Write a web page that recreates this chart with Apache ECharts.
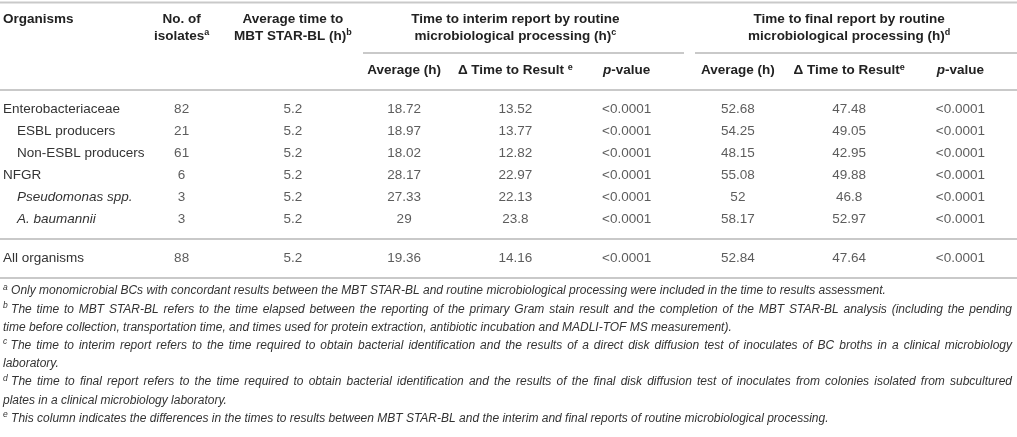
<!DOCTYPE html>
<html>
<head>
<meta charset="utf-8">
<title>Time to results</title>
<script src="https://cdn.jsdelivr.net/npm/echarts@6/dist/echarts.min.js"></script>
<style>
html,body{margin:0;padding:0;background:#fff;}
#main{width:1017px;height:437px;}
</style>
</head>
<body>
<div id="main"></div>
<script>
// row names
var organisms = ['Enterobacteriaceae', 'ESBL producers', 'Non-ESBL producers', 'NFGR', 'Pseudomonas spp.', 'A. baumannii'];
var subGroups = ['ESBL producers', 'Non-ESBL producers', 'Pseudomonas spp.', 'A. baumannii'];
var italicNames = ['Pseudomonas spp.', 'A. baumannii'];
var totalRow = ['All organisms'];

// column values, one array per column
var isolates = [82, 21, 61, 6, 3, 3];
var starBL = [5.2, 5.2, 5.2, 5.2, 5.2, 5.2];
var interimAvg = [18.72, 18.97, 18.02, 28.17, 27.33, 29];
var interimDelta = [13.52, 13.77, 12.82, 22.97, 22.13, 23.8];
var interimP = ['<0.0001', '<0.0001', '<0.0001', '<0.0001', '<0.0001', '<0.0001'];
var finalAvg = [52.68, 54.25, 48.15, 55.08, 52, 58.17];
var finalDelta = [47.48, 49.05, 42.95, 49.88, 46.8, 52.97];
var finalP = ['<0.0001', '<0.0001', '<0.0001', '<0.0001', '<0.0001', '<0.0001'];
// All organisms row, same column order
var allOrganisms = [88, 5.2, 19.36, 14.16, '<0.0001', 52.84, 47.64, '<0.0001'];

// header texts
var columns = ['isolates', 'starBL', 'interimAvg', 'interimDelta', 'interimP', 'finalAvg', 'finalDelta', 'finalP'];
var groupHeaders = ['No. of\nisolates{sup|a}', 'Average time to\nMBT STAR-BL (h){sup|b}', '',
	'Time to interim report by routine\nmicrobiological processing (h){sup|c}', '', '',
	'Time to final report by routine\nmicrobiological processing (h){sup|d}', ''];
var subHeaders = ['', '', 'Average (h)', '\u0394 Time to Result {sup|e}', '{it|p}-value',
	'Average (h)', '\u0394 Time to Result{sup|e}', '{it|p}-value'];

// footnote lines; [mark, text, justified]
var footnotes = [
	['a', 'Only monomicrobial BCs with concordant results between the MBT STAR-BL and routine microbiological processing were included in the time to results assessment.', false],
	['b', 'The time to MBT STAR-BL refers to the time elapsed between the reporting of the primary Gram stain result and the completion of the MBT STAR-BL analysis (including the pending', true],
	['', 'time before collection, transportation time, and times used for protein extraction, antibiotic incubation and MADLI-TOF MS measurement).', false],
	['c', 'The time to interim report refers to the time required to obtain bacterial identification and the results of a direct disk diffusion test of inoculates of BC broths in a clinical microbiology', true],
	['', 'laboratory.', false],
	['d', 'The time to final report refers to the time required to obtain bacterial identification and the results of the final disk diffusion test of inoculates from colonies isolated from subcultured', true],
	['', 'plates in a clinical microbiology laboratory.', false],
	['e', 'This column indicates the differences in the times to results between MBT STAR-BL and the interim and final reports of routine microbiological processing.', false]
];

var FONT = '"Liberation Sans", Arial, Helvetica, sans-serif';
var SIZE = 13.5;
var NOTE_SIZE = 12;
var SUP_SIZE = 8.5;
var NOTE_RIGHT = 1012;
var TEXT = '#333';
var HEAD = '#222';
var RULE = '#c9c9c9';

var colValues = [isolates, starBL, interimAvg, interimDelta, interimP, finalAvg, finalDelta, finalP];
var bodyCells = [], totalCells = [];
for (var c = 0; c < columns.length; c++) {
	for (var r = 0; r < organisms.length; r++) {
		bodyCells.push({value: [c, r], text: String(colValues[c][r])});
	}
	totalCells.push({value: [c, 0], text: String(allOrganisms[c])});
}

var supStyle = {fontSize: 9, fontWeight: 'bold', lineHeight: 11, verticalAlign: 'top', color: HEAD, fontFamily: FONT};
var cellLabel = {
	show: true,
	position: 'inside',
	color: TEXT,
	fontSize: SIZE,
	fontFamily: FONT,
	formatter: function (p) { return p.data.text; }
};
var hiddenAxis = {axisLine: {show: false}, axisTick: {show: false}, splitLine: {show: false}};

function rowLabel(name) {
	if (italicNames.indexOf(name) >= 0) return '{it|' + name + '}';
	if (subGroups.indexOf(name) >= 0) return '{ind|' + name + '}';
	return name;
}

// measuring context, used to stretch the spaces of justified footnote lines
var ctx = document.createElement('canvas').getContext('2d');
function textWidth(str, size) {
	ctx.font = 'italic ' + size + 'px ' + FONT;
	return ctx.measureText(str).width;
}

function noteLine(note, left) {
	var mark = note[0], body = note[1];
	var head = mark ? '{s|' + mark + '} ' : '';
	var rich = {s: {fontSize: SUP_SIZE, fontStyle: 'italic', lineHeight: 9, verticalAlign: 'top', color: TEXT, fontFamily: FONT}};
	if (!note[2]) return {text: head + body, rich: rich};
	var words = body.split(' ');
	var natural = (mark ? textWidth(mark, SUP_SIZE) + textWidth(' ', NOTE_SIZE) : 0) + textWidth(body, NOTE_SIZE);
	var gap = textWidth(' ', NOTE_SIZE) + (NOTE_RIGHT - left - natural) / (words.length - 1);
	rich.sp = {width: gap, fontSize: NOTE_SIZE, fontFamily: FONT};
	return {text: head + words.join('{sp| }'), rich: rich};
}

// "Organisms" header plus one title per footnote line
var titles = [{
	text: 'Organisms', left: 3, top: 11, padding: 0,
	textStyle: {fontSize: SIZE, fontWeight: 'bold', color: HEAD, fontFamily: FONT, lineHeight: 17}
}];
for (var i = 0; i < footnotes.length; i++) {
	var line = noteLine(footnotes[i], 3);
	titles.push({
		text: line.text, left: 3, top: 283 + i * 18.2, padding: 0,
		textStyle: {
			fontSize: NOTE_SIZE, fontStyle: 'italic', fontWeight: 'normal', color: TEXT, fontFamily: FONT, lineHeight: 16,
			rich: line.rich
		}
	});
}

function rule(y, x1, x2) {
	return {type: 'line', silent: true, shape: {x1: x1, y1: y, x2: x2, y2: y}, style: {stroke: RULE, lineWidth: 2}};
}

var chart = echarts.init(document.getElementById('main'), null, {renderer: 'canvas'});
chart.setOption({
	animation: false,
	backgroundColor: '#fff',
	title: titles,
	grid: [
		{left: 126, right: 1, top: 98, height: 132},
		{left: 126, right: 1, top: 247, height: 22}
	],
	xAxis: [
		// sub headers sit on the body grid
		Object.assign({type: 'category', gridIndex: 0, position: 'top', data: subHeaders,
			axisLabel: {interval: 0, margin: 28, verticalAlign: 'middle', fontSize: SIZE, fontWeight: 'bold', color: HEAD, fontFamily: FONT,
				rich: {sup: supStyle, it: {fontStyle: 'italic', fontWeight: 'bold', fontSize: SIZE, color: HEAD, fontFamily: FONT}}}
		}, hiddenAxis),
		// group headers
		Object.assign({type: 'category', gridIndex: 0, position: 'top', data: groupHeaders,
			axisLabel: {interval: 0, margin: 70, verticalAlign: 'middle', lineHeight: 17, fontSize: SIZE, fontWeight: 'bold', color: HEAD, fontFamily: FONT,
				rich: {sup: supStyle}}
		}, hiddenAxis),
		Object.assign({type: 'category', gridIndex: 1, data: columns, axisLabel: {show: false}}, hiddenAxis)
	],
	yAxis: [
		Object.assign({type: 'category', gridIndex: 0, inverse: true, data: organisms,
			axisLabel: {margin: 123, align: 'left', fontSize: SIZE, color: TEXT, fontFamily: FONT, formatter: rowLabel,
				rich: {
					ind: {padding: [0, 0, 0, 14], fontSize: SIZE, color: TEXT, fontFamily: FONT},
					it: {padding: [0, 0, 0, 14], fontStyle: 'italic', fontSize: SIZE, color: TEXT, fontFamily: FONT}
				}}
		}, hiddenAxis),
		Object.assign({type: 'category', gridIndex: 1, inverse: true, data: totalRow,
			axisLabel: {margin: 123, align: 'left', fontSize: SIZE, color: TEXT, fontFamily: FONT}
		}, hiddenAxis)
	],
	graphic: [
		rule(2.5, 0, 1017),
		rule(53, 363, 684),
		rule(53, 695, 1017),
		rule(90, 0, 1017),
		rule(239, 0, 1017),
		rule(278, 0, 1017)
	],
	series: [
		{type: 'scatter', xAxisIndex: 0, yAxisIndex: 0, symbolSize: 1, silent: true,
			itemStyle: {color: 'rgba(0,0,0,0)'}, label: cellLabel, data: bodyCells},
		{type: 'scatter', xAxisIndex: 2, yAxisIndex: 1, symbolSize: 1, silent: true,
			itemStyle: {color: 'rgba(0,0,0,0)'}, label: cellLabel, data: totalCells}
	]
});
</script>
</body>
</html>
